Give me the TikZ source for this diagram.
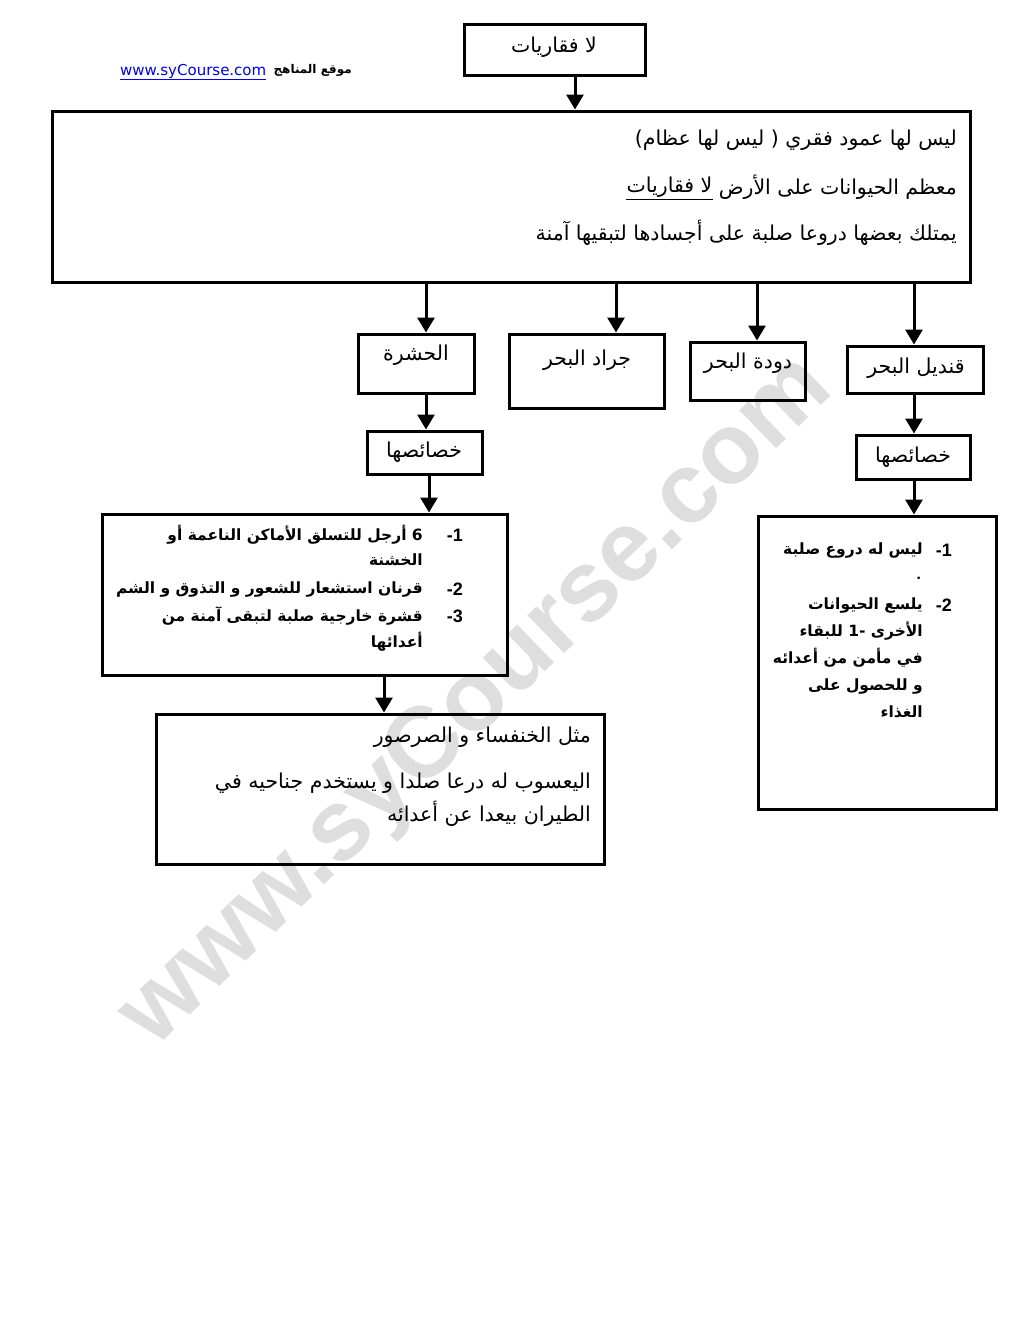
\documentclass[tikz,border=0pt]{standalone}
\usepackage{fontspec}
\setmainfont{Liberation Sans}
\newfontfamily\ar[Script=Arabic]{DejaVu Sans}
\newfontfamily\verd{DejaVu Sans}
\TeXXeTstate=1
\usetikzlibrary{arrows.meta}
\newcommand\AR[1]{{\ar\beginR #1\endR}}
\definecolor{wm}{RGB}{222,222,222}
\definecolor{linkblue}{RGB}{0,0,230}
\begin{document}
\begin{tikzpicture}[x=1pt,y=-1pt,
 box/.style={draw, line width=3pt, inner sep=0pt},
 arr/.style={line width=3pt, -{Triangle[length=15pt,width=17pt]}},
 txt/.style={inner sep=0pt, font=\fontsize{20.5}{24}\selectfont},
 btxt/.style={inner sep=0pt, font=\fontsize{15.5}{20}\selectfont\bfseries},
 num/.style={inner sep=0pt, font=\fontsize{18}{20}\selectfont\bfseries},
]
\useasboundingbox[fill=white] (0,0) rectangle (1020,1320);

% watermark
\node[rotate=44, text=wm, inner sep=0pt, font=\fontsize{100}{100}\selectfont\bfseries] (wmark) at (478,703) {www.syCourse.com};

% header link
\node[inner sep=0pt, anchor=west, text=linkblue, font=\verd\fontsize{15}{17}\selectfont] (link) at (120,72) {\underline{www.syCourse.com}};
\node[inner sep=0pt, anchor=east, font=\fontsize{12}{14}\selectfont\bfseries] (site) at (352,70) {\AR{موقع المناهج}};

% boxes
\node[box, minimum width=181pt, minimum height=51pt] (top) at (554.5,49.5) {};
\node[box, minimum width=918pt, minimum height=171pt] (big) at (511,196.5) {};
\node[box, minimum width=116pt, minimum height=59pt] (hash) at (416,363.5) {};
\node[box, minimum width=155pt, minimum height=74pt] (jarad) at (586.5,371) {};
\node[box, minimum width=115pt, minimum height=58pt] (duda) at (747.5,371) {};
\node[box, minimum width=136pt, minimum height=47pt] (qand) at (915,369.5) {};
\node[box, minimum width=115pt, minimum height=43pt] (khL) at (424.5,452.5) {};
\node[box, minimum width=114pt, minimum height=44pt] (khR) at (913,457) {};
\node[box, minimum width=405pt, minimum height=161pt] (listL) at (304.5,594.5) {};
\node[box, minimum width=448pt, minimum height=150pt] (ex) at (380,789) {};
\node[box, minimum width=238pt, minimum height=293pt] (listR) at (877,662.5) {};

% box labels
\node[txt] (ttop) at (554,47) {\AR{لا فقاريات}};
\node[txt, anchor=east] (b1) at (957,140) {\AR{ليس لها عمود فقري ( ليس لها عظام)}};
\node[txt, anchor=east] (b2a) at (957,187) {\AR{معظم الحيوانات على الأرض}};
\node[txt, anchor=east] (b2b) at ([xshift=-6pt]b2a.west) {\AR{لا فقاريات}};
\draw[line width=1.4pt] ([yshift=-2pt]b2b.south west) -- ([yshift=-2pt]b2b.south east);
\node[txt, anchor=east] (b3) at (957,233) {\AR{يمتلك بعضها دروعا صلبة على أجسادها لتبقيها آمنة}};

\node[txt] (thash) at (416,355) {\AR{الحشرة}};
\node[txt] (tjarad) at (587,360) {\AR{جراد البحر}};
\node[txt] (tduda) at (748,363) {\AR{دودة البحر}};
\node[txt] (tqand) at (916,368) {\AR{قنديل البحر}};
\node[txt] (tkhL) at (424,452) {\AR{خصائصها}};
\node[txt] (tkhR) at (913,457) {\AR{خصائصها}};

% left list
\node[num, anchor=east] (n1) at (463,535) {-1};
\node[num, anchor=east] (n2) at (463,589) {-2};
\node[num, anchor=east] (n3) at (463,616) {-3};
\node[btxt, anchor=east] (l1) at (423,535) {\AR{6 أرجل للتسلق الأماكن الناعمة أو}};
\node[btxt, anchor=east] (l2) at (423,560) {\AR{الخشنة}};
\node[btxt, anchor=east] (l3) at (423,589) {\AR{قرنان استشعار للشعور و التذوق و الشم}};
\node[btxt, anchor=east] (l4) at (423,616) {\AR{قشرة خارجية صلبة لتبقى آمنة من}};
\node[btxt, anchor=east] (l5) at (423,642) {\AR{أعدائها}};

% right list
\node[num, anchor=east] (m1) at (952,550) {-1};
\node[num, anchor=east] (m2) at (952,605) {-2};
\node[btxt, anchor=east] (r1) at (923,550) {\AR{ليس له دروع صلبة}};
\node[btxt, anchor=east] (r2) at (921,578) {.};
\node[btxt, anchor=east] (r3) at (923,605) {\AR{يلسع الحيوانات}};
\node[btxt, anchor=east] (r4) at (923,631) {{\ar\beginR الأخرى \beginL -1\endL{} للبقاء\endR}};
\node[btxt, anchor=east] (r5) at (923,658) {\AR{في مأمن من أعدائه}};
\node[btxt, anchor=east] (r6) at (923,686) {\AR{و للحصول على}};
\node[btxt, anchor=east] (r7) at (923,712) {\AR{الغذاء}};

% example box
\node[txt, anchor=east] (e1) at (591,737) {\AR{مثل الخنفساء و الصرصور}};
\node[txt, anchor=east] (e2) at (591,783) {\AR{اليعسوب له درعا صلدا و يستخدم جناحيه في}};
\node[txt, anchor=east] (e3) at (591,814) {\AR{الطيران بيعدا عن أعدائه}};

% arrows
\draw[arr] (top.south -| 575,0) -- (big.north -| 575,0);
\draw[arr] (big.south -| 426,0) -- (hash.north -| 426,0);
\draw[arr] (big.south -| 616,0) -- (jarad.north -| 616,0);
\draw[arr] (big.south -| 757,0) -- (duda.north -| 757,0);
\draw[arr] (big.south -| 914,0) -- (qand.north -| 914,0);
\draw[arr] (hash.south -| 426,0) -- (khL.north -| 426,0);
\draw[arr] (khL.south -| 429,0) -- (listL.north -| 429,0);
\draw[arr] (listL.south -| 384,0) -- (ex.north -| 384,0);
\draw[arr] (qand.south -| 914,0) -- (khR.north -| 914,0);
\draw[arr] (khR.south -| 914,0) -- (listR.north -| 914,0);
\end{tikzpicture}
\end{document}
